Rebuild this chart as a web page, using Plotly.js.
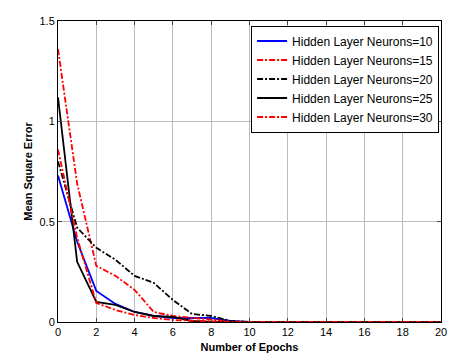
<!DOCTYPE html>
<html>
<head>
<meta charset="utf-8">
<script src="https://cdn.plot.ly/plotly-3.0.1.min.js"></script>
<style>html,body{margin:0;padding:0;background:#fff;}#chart{width:449px;height:360px;}</style>
</head>
<body>
<div id="chart"></div>
<script>
const epochs = [0,1,2,3,4,5,6,7,8,9,10,11,12,13,14,15,16,17,18,19,20];
const n10 = [0.73,0.40,0.155,0.09,0.05,0.03,0.02,0.02,0.02,0.005,0,0,0,0,0,0,0,0,0,0,0];
const n15 = [1.36,0.69,0.28,0.23,0.16,0.05,0.03,0.02,0.01,0.003,0,0,0,0,0,0,0,0,0,0,0];
const n20 = [0.80,0.47,0.37,0.31,0.23,0.195,0.11,0.04,0.03,0.005,0,0,0,0,0,0,0,0,0,0,0];
const n25 = [1.12,0.30,0.10,0.085,0.05,0.03,0.025,0.005,0,0,0,0,0,0,0,0,0,0,0,0,0];
const n30 = [0.86,0.42,0.095,0.06,0.035,0.02,0.01,0.005,0.003,0,0,0,0,0,0,0,0,0,0,0,0];
const names = ["Hidden Layer Neurons=10","Hidden Layer Neurons=15","Hidden Layer Neurons=20","Hidden Layer Neurons=25","Hidden Layer Neurons=30"];
const xTicks = [0,2,4,6,8,10,12,14,16,18,20];
const yTicks = [0,0.5,1,1.5];
const yTickText = ["0","0.5","1","1.5"];

const dd = "6px,2px,2px,2px";
const series = [
  {y:n10, color:"#0000ff", dash:"solid"},
  {y:n15, color:"#ff0000", dash:dd},
  {y:n20, color:"#000000", dash:dd},
  {y:n25, color:"#000000", dash:"solid"},
  {y:n30, color:"#ff0000", dash:dd}
];
const traces = series.map((s,i)=>({
  x: epochs, y: s.y, name: names[i], type:"scatter", mode:"lines",
  line:{color:s.color, width:1.8, dash:s.dash}
}));

const layout = {
  width:449, height:360,
  margin:{l:58, r:8, t:21, b:38},
  paper_bgcolor:"#fff", plot_bgcolor:"#fff",
  font:{family:"Liberation Sans, Arial, sans-serif", size:11, color:"#000"},
  showlegend:true,
  legend:{x:0.995, y:0.985, xanchor:"right", yanchor:"top", bgcolor:"#fff",
    bordercolor:"#000", borderwidth:1, font:{size:12}, tracegroupgap:0,
    itemwidth:30},
  xaxis:{range:[0,20], tickvals:xTicks, ticks:"inside", ticklen:4, mirror:"ticks",
    showline:true, linecolor:"#000", linewidth:1, showgrid:true, gridcolor:"#bbbbbb",
    gridwidth:1, zeroline:false, tickfont:{size:11},
    title:{text:"<b>Number of Epochs</b>", font:{size:11}, standoff:6}},
  yaxis:{range:[0,1.5], tickvals:yTicks, ticktext:yTickText, ticks:"inside", ticklen:4,
    mirror:"ticks", showline:true, linecolor:"#000", linewidth:1, showgrid:true,
    gridcolor:"#bbbbbb", gridwidth:1, zeroline:false, tickfont:{size:11},
    title:{text:"<b>Mean Square Error</b>", font:{size:11}, standoff:4}}
};
Plotly.newPlot("chart", traces, layout, {displayModeBar:false, staticPlot:true});
</script>
</body>
</html>
